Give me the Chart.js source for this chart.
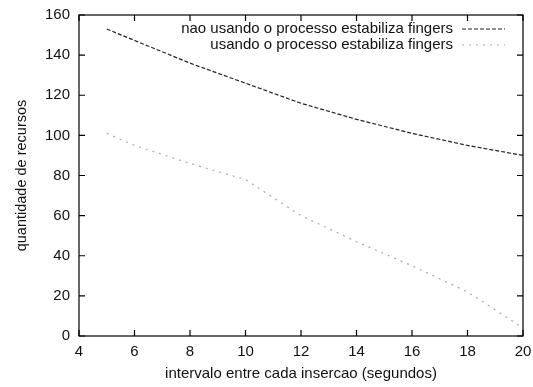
<!DOCTYPE html>
<html lang="pt">
<head>
<meta charset="UTF-8">
<title>Recursos</title>
<script src="https://cdn.jsdelivr.net/npm/chart.js"></script>
<style>
  body { margin: 0; padding: 0; background: #fff; }
  #chart { display: block; }
</style>
</head>
<body>
<canvas id="chart" width="533" height="387"></canvas>
<script>
// data
const xSemProcesso = [5, 8, 10, 12, 14, 16, 18, 20];
const ySemProcesso = [153, 136, 126, 116, 108, 101, 95, 90];
const xComProcesso = [5, 6, 8, 10, 12, 14, 16, 18, 20];
const yComProcesso = [101, 95, 86, 78, 60, 47, 35, 22, 4];
const seriesLabels = ['nao usando o processo estabiliza fingers', 'usando o processo estabiliza fingers'];
const xTitle = 'intervalo entre cada insercao (segundos)';
const yTitle = 'quantidade de recursos';

const toPoints = (xs, ys) => xs.map((x, i) => ({x: x, y: ys[i]}));
const FONT = '"Liberation Sans", Arial, sans-serif';

// gnuplot-ish frame with inward ticks on all sides
const framePlugin = {
    id: 'frame',
    afterDraw(chart) {
        const c = chart.ctx, a = chart.chartArea;
        const xs = chart.scales.x, ys = chart.scales.y;
        c.save();
        c.strokeStyle = '#000';
        c.lineWidth = 1.2;
        c.strokeRect(a.left, a.top, a.right - a.left, a.bottom - a.top);
        c.beginPath();
        xs.ticks.forEach(t => {
            const px = xs.getPixelForValue(t.value);
            c.moveTo(px, a.bottom); c.lineTo(px, a.bottom - 6);
            c.moveTo(px, a.top); c.lineTo(px, a.top + 6);
        });
        ys.ticks.forEach(t => {
            const py = ys.getPixelForValue(t.value);
            c.moveTo(a.left, py); c.lineTo(a.left + 6, py);
            c.moveTo(a.right, py); c.lineTo(a.right - 6, py);
        });
        c.stroke();

        // legend, text right-aligned with sample line to its right
        c.font = '15px ' + FONT;
        c.textAlign = 'right';
        c.textBaseline = 'middle';
        chart.data.datasets.forEach((ds, i) => {
            const y = a.top + 14 + i * 16;
            c.fillStyle = '#111';
            c.fillText(ds.label, a.right - 70, y);
            c.beginPath();
            c.strokeStyle = ds.borderColor;
            c.lineWidth = ds.borderWidth;
            c.setLineDash(ds.borderDash);
            c.moveTo(a.right - 61, y);
            c.lineTo(a.right - 18, y);
            c.stroke();
            c.setLineDash([]);
        });
        c.restore();
    }
};

new Chart(document.getElementById('chart'), {
    type: 'line',
    data: {
        datasets: [{
            label: seriesLabels[0],
            data: toPoints(xSemProcesso, ySemProcesso),
            borderColor: '#222',
            borderWidth: 1.2,
            borderDash: [4, 2],
            pointRadius: 0,
            fill: false
        }, {
            label: seriesLabels[1],
            data: toPoints(xComProcesso, yComProcesso),
            borderColor: '#a8a8a8',
            borderWidth: 1.2,
            borderDash: [2, 5],
            pointRadius: 0,
            fill: false
        }]
    },
    options: {
        responsive: false,
        animation: false,
        layout: { padding: 0 },
        plugins: { legend: { display: false }, tooltip: { enabled: false } },
        scales: {
            x: {
                type: 'linear', min: 4, max: 20,
                ticks: { stepSize: 2, color: '#111', padding: 7,
                         font: { family: FONT, size: 15 } },
                grid: { display: false, drawTicks: false },
                border: { display: false },
                title: { display: true, text: xTitle, color: '#111', padding: { top: 2 },
                         font: { family: FONT, size: 15 } },
                afterFit(s) { s.height = 51; s.paddingLeft = 0; s.paddingRight = 10; }
            },
            y: {
                min: 0, max: 160,
                ticks: { stepSize: 20, color: '#111', padding: 9,
                         font: { family: FONT, size: 15 } },
                grid: { display: false, drawTicks: false },
                border: { display: false },
                title: { display: true, text: yTitle, color: '#111', padding: { top: 13, bottom: 0 },
                         font: { family: FONT, size: 14.5 } },
                afterFit(s) { s.width = 79; s.paddingTop = 15; s.paddingBottom = 0; }
            }
        }
    },
    plugins: [framePlugin]
});
</script>
</body>
</html>
